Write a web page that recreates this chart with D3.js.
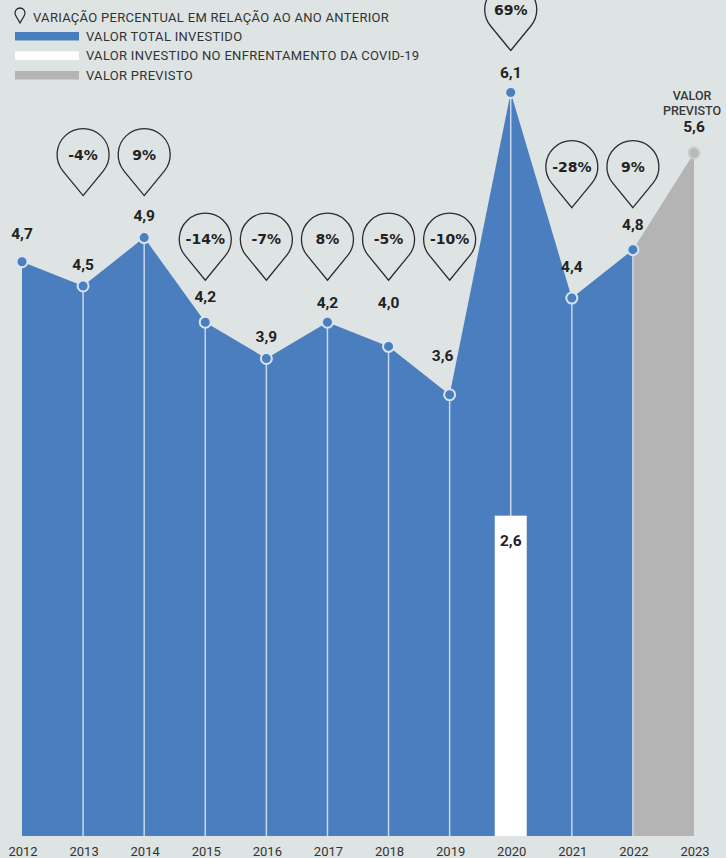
<!DOCTYPE html>
<html><head><meta charset="utf-8">
<script src="https://cdn.jsdelivr.net/npm/d3@7"></script>
<style>
html,body{margin:0;padding:0;background:#dde4e3;}
svg{display:block;}
</style></head>
<body>
<svg id="chart" width="726" height="858"></svg>
<script>
// ---------- DATA ----------
const years = [2012,2013,2014,2015,2016,2017,2018,2019,2020,2021,2022,2023];
const totalInvested = [4.7,4.5,4.9,4.2,3.9,4.2,4.0,3.6,6.1,4.4,4.8,null];
const forecastYears = [2022,2023];
const forecastValues = [4.8,5.6];
const covidYears = [2020];
const covidValues = [2.6];
const pctChange = [null,-4,9,-14,-7,8,-5,-10,69,-28,9,null];
const legendLabels = [
  "VARIAÇÃO PERCENTUAL EM RELAÇÃO AO ANO ANTERIOR",
  "VALOR TOTAL INVESTIDO",
  "VALOR INVESTIDO NO ENFRENTAMENTO DA COVID-19",
  "VALOR PREVISTO"
];
const forecastNote = ["VALOR","PREVISTO"];

// ---------- LAYOUT / STYLE ----------
const W = 726, H = 858;
const plotBottom = 836;
const C = {bg:"#dde4e3", blue:"#4a7ebf", white:"#ffffff", gray:"#b4b4b4",
           grayPt:"#b9b9b9", line:"#c9d8ea", text:"#222", axis:"#333", pin:"#2b2b2b"};
// pin groups (pins in the same group share a row)
const pinGroup = [null,0,0,1,1,1,1,1,2,3,3,null];
// extra lift of value labels above their point
const labelLift = {2012:28,2013:21,2014:22,2015:26,2016:22,2017:20,2018:44,2019:39,2020:20,2021:32,2022:25,2023:26};
const labelShift = {2019:-7};

const loc = d3.formatLocale({decimal:",",thousands:".",grouping:[3],currency:["R$",""]});
const fmt = loc.format(".1f");

const svg = d3.select("#chart");
svg.append("rect").attr("width",W).attr("height",H).attr("fill",C.bg);

const x = d3.scalePoint().domain(years).range([22,694]);
const y = d3.scaleLinear().domain([0,7]).range([830, 830-7*120.9]);

const data = years.map((yr,i)=>({year:yr, v:totalInvested[i], pct:pctChange[i], g:pinGroup[i]}));
const main = data.filter(d=>d.v!=null);
const fc = forecastYears.map((yr,i)=>({year:yr,v:forecastValues[i]}));

// areas
const area = d3.area().x(d=>x(d.year)).y0(plotBottom).y1(d=>y(d.v));
svg.append("path").datum(fc).attr("d",area).attr("fill",C.gray);
svg.append("path").datum(main).attr("d",area).attr("fill",C.blue);

// vertical lines
svg.append("g").selectAll("line").data(main.filter((d,i)=>i>0))
  .join("line")
  .attr("x1",d=>x(d.year)).attr("x2",d=>x(d.year))
  .attr("y1",d=>y(d.v)).attr("y2",plotBottom)
  .attr("stroke",C.line).attr("stroke-width",1.5);

// covid bar
const bw = 32;
const covid = covidYears.map((yr,i)=>({year:yr,v:covidValues[i]}));
svg.append("g").selectAll("rect").data(covid)
  .join("rect")
  .attr("x",d=>x(d.year)-bw/2).attr("width",bw)
  .attr("y",d=>y(d.v)).attr("height",d=>plotBottom-y(d.v))
  .attr("fill",C.white);
svg.append("g").selectAll("text").data(covid)
  .join("text")
  .attr("x",d=>x(d.year)).attr("y",d=>y(d.v)+30)
  .attr("text-anchor","middle")
  .attr("font-family","Roboto").attr("font-weight",700).attr("font-size",15.5)
  .attr("fill",C.text).text(d=>fmt(d.v));

// points
svg.append("g").selectAll("circle").data(main).join("circle")
  .attr("cx",d=>x(d.year)).attr("cy",d=>y(d.v)).attr("r",5.5)
  .attr("fill",C.blue).attr("stroke","#d9e4f0").attr("stroke-width",2);
svg.append("circle").datum(fc[1])
  .attr("cx",d=>x(d.year)).attr("cy",d=>y(d.v)).attr("r",5.5)
  .attr("fill",C.grayPt).attr("stroke","#cdcdcd").attr("stroke-width",2);

// value labels
const allLabels = main.concat([fc[1]]);
svg.append("g").selectAll("text").data(allLabels).join("text")
  .attr("x",d=>x(d.year)+(labelShift[d.year]||0))
  .attr("y",d=>y(d.v)-labelLift[d.year]+5.5)
  .attr("text-anchor","middle")
  .attr("font-family","Roboto").attr("font-weight",700).attr("font-size",15.5)
  .attr("fill",C.text).text(d=>fmt(d.v));

// forecast note
svg.append("g").selectAll("text").data(forecastNote).join("text")
  .attr("x",x(2023)-2).attr("y",(d,i)=>y(fc[1].v)-53+i*15)
  .attr("text-anchor","middle")
  .attr("font-family","Roboto").attr("font-weight",500).attr("font-size",12.5)
  .attr("fill","#3a3a3a").text(d=>d);

// pins
function pinPath(cx, tipY, r, d){
  const cy = tipY - d;
  const c = r/d, s = Math.sqrt(1-c*c);
  const px = r*s, py = cy + r*c;
  return `M${cx},${tipY}L${cx+px},${py}A${r},${r} 0 1 0 ${cx-px},${py}Z`;
}
const groupMax = {};
data.forEach(d=>{ if(d.g!=null){ groupMax[d.g] = Math.max(groupMax[d.g]||0, d.v);} });
const pinR = 26, pinD = 41;
const pins = data.filter(d=>d.pct!=null);
const pg = svg.append("g");
pg.selectAll("path").data(pins).join("path")
  .attr("d",d=>pinPath(x(d.year), y(groupMax[d.g])-42, pinR, pinD))
  .attr("fill","none").attr("stroke",C.pin).attr("stroke-width",1.3);
pg.selectAll("text").data(pins).join("text")
  .attr("x",d=>x(d.year)).attr("y",d=>y(groupMax[d.g])-42-pinD+5)
  .attr("text-anchor","middle")
  .attr("font-family","DejaVu Sans").attr("font-weight",700).attr("font-size",14)
  .attr("fill",C.text).text(d=>d.pct+"%");

// x axis labels
svg.append("g").selectAll("text").data(years).join("text")
  .attr("x",d=>x(d)+1).attr("y",856)
  .attr("text-anchor","middle")
  .attr("font-family","Roboto").attr("font-weight",400).attr("font-size",13)
  .attr("fill",C.axis).text(d=>d);

// legend
const lg = svg.append("g");
lg.append("path").attr("d",pinPath(20,23,5,10)).attr("fill","none").attr("stroke",C.pin).attr("stroke-width",1.3);
lg.append("text").attr("x",33).attr("y",21.5).text(legendLabels[0]);
const sw = [C.blue,C.white,C.gray];
sw.forEach((c,i)=>{
  lg.append("rect").attr("x",15).attr("y",32+i*19.5).attr("width",64).attr("height",8.5).attr("fill",c);
  lg.append("text").attr("x",86).attr("y",40.5+i*19.5).text(legendLabels[i+1]);
});
lg.selectAll("text").attr("font-family","Roboto").attr("font-size",13)
  .attr("letter-spacing",0.3).attr("fill","#333");
</script>
</body></html>
